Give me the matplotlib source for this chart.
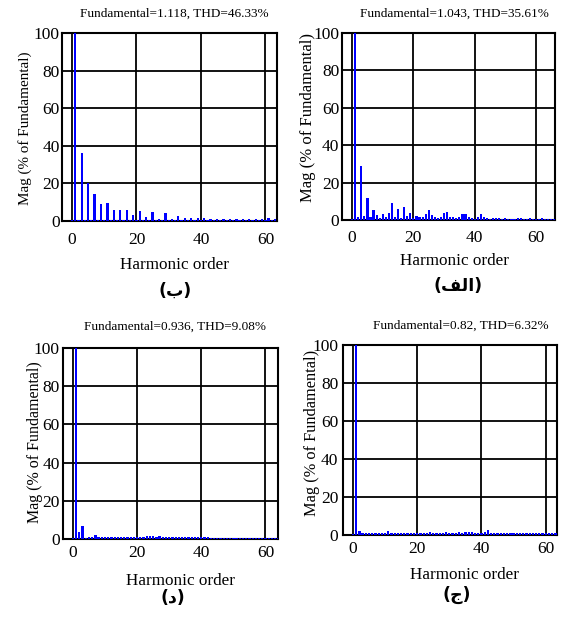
import matplotlib
matplotlib.use("Agg")
import matplotlib.pyplot as plt
import numpy as np

plt.rcParams['font.family'] = ['Liberation Serif', 'DejaVu Sans']

# ---------------- data ----------------
titles = ["Fundamental=1.118, THD=46.33%", "Fundamental=1.043, THD=35.61%",
          "Fundamental=0.936, THD=9.08%", "Fundamental=0.82, THD=6.32%"]
# Persian panel labels (visual order, presentation forms): (ب) (الف) (د) (ج)
panel_labels = ["(\uFE8F)", "(\uFED2\uFEDF\uFE8D)", "(\uFEA9)", "(\uFE9D)"]
xlabel_text = "Harmonic order"
ylabel_text = "Mag (% of Fundamental)"
xticks = [0, 20, 40, 60]
yticks = [0, 20, 40, 60, 80, 100]

mag_b = [0.5, 100, 0.5, 36, 0.5, 20, 0.5, 14.4, 0.5, 8.9, 0.5, 9.6, 0.5, 6.1, 0.5, 6.1,
         0.5, 6.1, 0.5, 3.4, 0.5, 5.4, 0.4, 2.0, 0.4, 4.6, 0.4, 1.3, 0.4, 4.0, 0.4, 1.0,
         0.4, 2.7, 0.4, 1.4, 0.4, 1.4, 0.4, 1.5, 0.4, 1.4, 0.4, 1.3, 0.4, 1.3, 0.4, 1.2,
         0.4, 1.3, 0.4, 1.2, 0.4, 1.3, 0.4, 1.0, 0.4, 1.3, 0.4, 1.0, 0.4, 1.5, 0.4, 1.0, 0.4]
mag_alef = [0.3, 100, 1.5, 29, 2.3, 11.8, 1.8, 5.2, 2.5, 1.2, 3.0, 1.8, 3.7, 8.9, 1.8, 6.0,
            1.2, 6.8, 2.3, 3.8, 1.0, 2.3, 1.6, 1.6, 3.2, 5.5, 2.5, 1.8, 1.2, 1.8, 4.0, 4.5,
            1.8, 1.5, 1.2, 1.6, 3.1, 3.1, 1.5, 1.0, 0.7, 1.5, 3.0, 1.5, 1.2, 0.8, 1.3, 0.9,
            1.2, 0.8, 0.9, 0.7, 0.8, 0.8, 1.0, 0.9, 0.7, 0.8, 0.9, 0.7, 0.8, 0.7, 0.9, 0.8,
            0.7, 0.8, 0.7]
mag_d = [0.6, 100, 3.5, 7.0, 0.7, 0.9, 1.2, 2.0, 1.3, 1.2, 1.0, 1.2, 1.1, 1.2, 0.8, 1.2,
         0.9, 1.3, 1.3, 1.3, 1.3, 1.1, 1.2, 1.4, 1.4, 1.4, 1.2, 1.4, 1.2, 1.0, 1.2, 0.9,
         1.2, 0.8, 1.2, 0.9, 1.1, 0.8, 1.2, 0.9, 1.1, 0.8, 1.1, 0.7, 0.6, 0.7, 0.6, 0.7,
         0.6, 0.7, 0.6, 0.7, 0.6, 0.7, 0.6, 0.7, 0.6, 0.7, 0.6, 0.7, 0.6, 0.7, 0.6, 0.7, 0.6]
mag_j = [0.5, 100, 2.0, 0.8, 1.2, 1.1, 0.8, 1.0, 0.9, 0.9, 1.0, 2.0, 1.0, 0.9, 1.0, 0.8,
         1.1, 0.8, 0.9, 1.0, 1.3, 0.9, 1.1, 1.0, 1.4, 1.2, 0.9, 1.0, 0.8, 1.4, 1.2, 1.3,
         0.9, 1.5, 1.0, 1.4, 1.6, 1.4, 1.2, 1.0, 1.3, 1.6, 2.4, 1.3, 1.0, 1.2, 0.9, 1.1,
         0.8, 1.0, 0.9, 1.1, 0.8, 1.0, 0.9, 1.2, 0.8, 1.0, 0.9, 1.1, 0.8, 1.0, 0.9, 1.0, 0.8]
series = [mag_b, mag_alef, mag_d, mag_j]

# ---------------- layout (pixels) ----------------
W, H = 563, 619
fig = plt.figure(figsize=(W / 100, H / 100), dpi=100)

def fx(px):
    return px / W

def fy(py):
    return 1 - py / H

# axes boxes: left, right, top, bottom (px)
boxes = [(62, 277, 33, 221), (342, 555, 33, 220), (63, 278, 348, 539), (343, 557, 345, 535)]
xlims = [(-3.1, 63.6), (-3.3, 66.2), (-3.1, 63.9), (-3.1, 63.5)]
title_pos = [(174, 14), (454, 14), (175, 327), (461, 326)]
xlabel_pos = [(175, 265), (455, 261), (180, 581), (464, 575)]
ylabel_pos = [(25, 128), (308, 118), (35, 442), (312, 433)]
ylabel_size = [10.9, 12.0, 11.5, 11.8]
panel_pos = [(175, 291), (458, 286), (173, 598), (457, 595)]
xpad = [8.0, 7.0, 4.5, 4.5]
ypad = [1.5, 2.0, 2.5, 3.5]

for i in range(4):
    l, r, t, b = boxes[i]
    ax = fig.add_axes([fx(l), fy(b), fx(r) - fx(l), fy(t) - fy(b)])
    vals = series[i]
    h = np.arange(len(vals))
    ax.bar(h, vals, width=0.7, color='#0000ff', linewidth=0, antialiased=False, zorder=3)
    ax.set_xlim(*xlims[i])
    ax.set_ylim(0, 100)
    ax.set_xticks(xticks)
    ax.set_yticks(yticks)
    ax.set_axisbelow(True)
    ax.grid(True, color='black', linewidth=1.3)
    for sp in ax.spines.values():
        sp.set_linewidth(1.5)
        sp.set_color('black')
        sp.set_zorder(2.5)
    ax.tick_params(axis='both', length=0, labelsize=12.5)
    ax.tick_params(axis='x', pad=xpad[i])
    ax.tick_params(axis='y', pad=ypad[i])

    fig.text(fx(title_pos[i][0]), fy(title_pos[i][1]), titles[i], ha='center', va='center',
             fontsize=9.5)
    fig.text(fx(xlabel_pos[i][0]), fy(xlabel_pos[i][1]), xlabel_text, ha='center', va='center',
             fontsize=12.3)
    fig.text(fx(ylabel_pos[i][0]), fy(ylabel_pos[i][1]), ylabel_text, ha='center', va='center',
             fontsize=ylabel_size[i], rotation=90)
    fig.text(fx(panel_pos[i][0]), fy(panel_pos[i][1]), panel_labels[i], ha='center', va='center',
             fontsize=12.5, fontweight='bold', family=['DejaVu Sans'])

fig.savefig("out.png", dpi=100)
